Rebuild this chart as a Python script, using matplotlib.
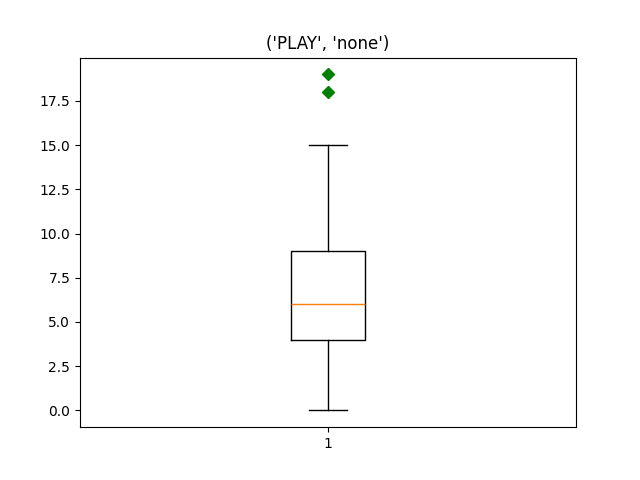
import matplotlib
matplotlib.use("Agg")
import matplotlib.pyplot as plt

title = "('PLAY', 'none')"
label = "1"
whislo = 0.0
q1 = 4.0
median = 6.0
q3 = 9.0
whishi = 15.0
fliers = [18.0, 19.0]

stats = [dict(label=label, whislo=whislo, q1=q1, med=median, q3=q3,
              whishi=whishi, fliers=fliers)]

fig, ax = plt.subplots(figsize=(6.4, 4.8), dpi=100)
ax.bxp(stats, flierprops=dict(marker='D', markerfacecolor='g', markeredgecolor='g', linestyle='none'))
ax.set_title(title)
fig.savefig("out.png")
